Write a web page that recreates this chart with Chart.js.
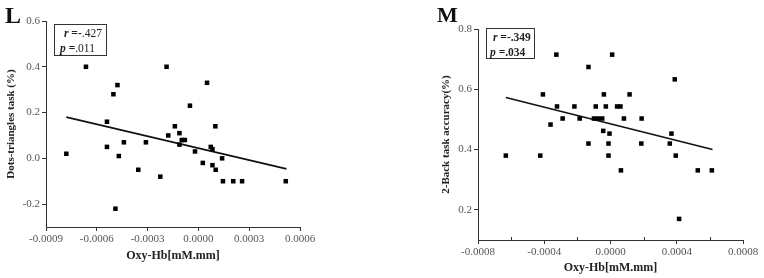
<!DOCTYPE html>
<html><head><meta charset="utf-8">
<script src="https://cdn.jsdelivr.net/npm/chart.js@4"></script>
<style>
html,body{margin:0;padding:0;background:#fff;}
body{width:764px;height:278px;position:relative;overflow:hidden;font-family:'Liberation Serif',serif;}
canvas{position:absolute;top:0;}
#c1{left:0;}
#c2{left:382px;}
.panel{position:absolute;font-weight:bold;font-family:'Liberation Serif',serif;color:#111;line-height:1;}
.stat{position:absolute;border:1px solid #333;font-family:'Liberation Serif',serif;font-size:11.5px;line-height:15px;color:#222;box-sizing:border-box;padding:1px 0 0 0;}
.stat div{white-space:nowrap;}
.stat i{font-weight:bold;}
</style>
</head><body>
<canvas id="c1" width="382" height="278"></canvas>
<canvas id="c2" width="382" height="278"></canvas>
<div class="panel" style="left:5px;top:3px;font-size:24px;">L</div>
<div class="panel" style="left:437px;top:4px;font-size:22px;">M</div>
<div class="stat" style="left:54px;top:24px;width:53px;height:32px;">
  <div style="padding-left:9px;"><i>r</i> <b>=-</b>.427</div>
  <div style="padding-left:5px;"><i>p</i> <b>=</b>.011</div>
</div>
<div class="stat" style="left:486px;top:28px;width:49px;height:31px;font-weight:bold;">
  <div style="padding-left:6px;"><i>r</i> =-.349</div>
  <div style="padding-left:3px;"><i>p</i> =.034</div>
</div>
<script>
// ---- Panel L data ----
const xL = [-0.00078,-0.00054,-0.00054,-0.00047,-0.00044,-0.00049,-0.000355,-0.00031,-0.000225,-0.000178,-0.000139,-0.000112,-0.000112,-0.000098,-0.00008,-0.00002,0.000026,0.000073,0.000083,0.000083,0.000102,0.0001,0.00014,0.000145,0.000206,0.000258,0.000516,-0.000664,-0.000188,-0.000502,-0.000478,0.000051,-0.00005];
const yL = [0.02,0.16,0.05,0.01,0.07,-0.22,-0.05,0.07,-0.08,0.10,0.14,0.11,0.06,0.08,0.08,0.03,-0.02,0.05,0.04,-0.03,-0.05,0.14,0.00,-0.10,-0.10,-0.10,-0.10,0.40,0.40,0.28,0.32,0.33,0.23];
const fitXL = [-0.00078, 0.00052];
const fitYL = [0.18, -0.046];
const xTicksL = [-0.0009,-0.0006,-0.0003,0.0000,0.0003,0.0006];
const xLabelsL = ['-0.0009','-0.0006','-0.0003','0.0000','0.0003','0.0006'];
const yTicksL = [-0.2,0.0,0.2,0.4,0.6];
const yLabelsL = ['-0.2','0.0','0.2','0.4','0.6'];

// ---- Panel M data ----
const xM = [-0.000632,-0.000424,-0.000408,-0.000362,-0.000327,-0.000323,-0.000289,-0.000218,-0.000186,-0.000133,-0.000133,-0.0001,-0.000089,-0.000077,-0.000044,-0.00005,-0.00004,-0.000028,-0.000012,-0.000012,-0.000006,0.00001,0.00004,0.00006,0.000063,0.000081,0.000115,0.000186,0.000188,0.000358,0.000368,0.000388,0.000394,0.000414,0.000527,0.000612];
const yM = [0.38,0.38,0.583,0.483,0.715,0.543,0.503,0.543,0.503,0.674,0.42,0.503,0.543,0.503,0.462,0.503,0.583,0.543,0.42,0.38,0.453,0.715,0.543,0.543,0.331,0.503,0.583,0.42,0.503,0.42,0.453,0.633,0.38,0.17,0.331,0.331];
const fitXM = [-0.000632, 0.000616];
const fitYM = [0.573, 0.40];
const xTicksM = [-0.0008,-0.0004,0.0000,0.0004,0.0008];
const xLabelsM = ['-0.0008','-0.0004','0.0000','0.0004','0.0008'];
const yTicksM = [0.2,0.4,0.6,0.8];
const yLabelsM = ['0.2','0.4','0.6','0.8'];

const tickFont = {family:"'Liberation Serif', serif", size:11};
const titleFont = {family:"'Liberation Serif', serif", size:12, weight:'bold'};
const axisColor = '#333';

function pts(xs, ys){ return xs.map((x,i)=>({x:x, y:ys[i]})); }

function makeChart(id, cfg){
  const minorPlugin = {
    id:'minor'+id,
    afterDraw(chart){
      if(!cfg.minor) return;
      const xs = chart.scales.x, ctx = chart.ctx;
      const y0 = chart.chartArea.bottom;
      ctx.save(); ctx.strokeStyle = axisColor; ctx.lineWidth = 1;
      for(let i=0;i<cfg.xTicks.length-1;i++){
        const v = (cfg.xTicks[i]+cfg.xTicks[i+1])/2;
        const px = Math.round(xs.getPixelForValue(v))+0.5;
        ctx.beginPath(); ctx.moveTo(px,y0); ctx.lineTo(px,y0-3); ctx.stroke();
      }
      ctx.restore();
    }
  };
  return new Chart(document.getElementById(id), {
    type:'scatter',
    data:{datasets:[
      {data:pts(cfg.xs,cfg.ys), pointStyle:'rect', pointRadius:3.2, pointBackgroundColor:'#000', pointBorderWidth:0, showLine:false},
      {type:'line', data:pts(cfg.fx,cfg.fy), borderColor:'#111', borderWidth:1.6, pointRadius:0, fill:false, tension:0}
    ]},
    options:{
      responsive:false, animation:false,
      layout:{padding:cfg.pad},
      plugins:{legend:{display:false}, tooltip:{enabled:false}},
      scales:{
        x:{type:'linear', min:cfg.xTicks[0], max:cfg.xTicks[cfg.xTicks.length-1],
          afterBuildTicks:s=>{s.ticks = cfg.xTicks.map(v=>({value:v}));},
          afterFit:s=>{s.height = cfg.xh;},
          ticks:{font:tickFont, color:'#555', padding:2, maxRotation:0, autoSkip:false,
            callback:(v,i)=>cfg.xLabels[i]},
          grid:{drawOnChartArea:false, tickLength:4, tickColor:axisColor},
          border:{color:axisColor, width:1},
          title:{display:true, text:'Oxy-Hb[mM.mm]', font:titleFont, color:'#222', padding:{top:0,bottom:cfg.xtp}}
        },
        y:{type:'linear', min:cfg.ymin, max:cfg.ymax,
          afterBuildTicks:s=>{s.ticks = cfg.yTicks.map(v=>({value:v}));},
          afterFit:s=>{s.width = cfg.yw;},
          ticks:{font:tickFont, color:'#555', padding:2, autoSkip:false,
            callback:(v,i)=>cfg.yLabels[i]},
          grid:{drawOnChartArea:false, tickLength:4, tickColor:axisColor},
          border:{color:axisColor, width:1},
          title:{display:true, text:cfg.ytitle, font:{family:"'Liberation Serif', serif", size:11, weight:'bold'}, color:'#222', padding:{top:cfg.ytp,bottom:0}}
        }
      }
    },
    plugins:[minorPlugin]
  });
}

makeChart('c1', {xs:xL, ys:yL, fx:fitXL, fy:fitYL, xTicks:xTicksL, xLabels:xLabelsL, yTicks:yTicksL, yLabels:yLabelsL,
  ymin:-0.3, ymax:0.6, pad:{left:0, top:21, right:82, bottom:0}, xh:51, yw:46, xtp:15, ytp:5,
  ytitle:'Dots-triangles task (%)', minor:false});
makeChart('c2', {xs:xM, ys:yM, fx:fitXM, fy:fitYM, xTicks:xTicksM, xLabels:xLabelsM, yTicks:yTicksM, yLabels:yLabelsM,
  ymin:0.1, ymax:0.8, pad:{left:0, top:29, right:21, bottom:0}, xh:38, yw:96, xtp:3, ytp:58,
  ytitle:'2-Back task accuracy(%)', minor:true});
</script>
</body></html>
